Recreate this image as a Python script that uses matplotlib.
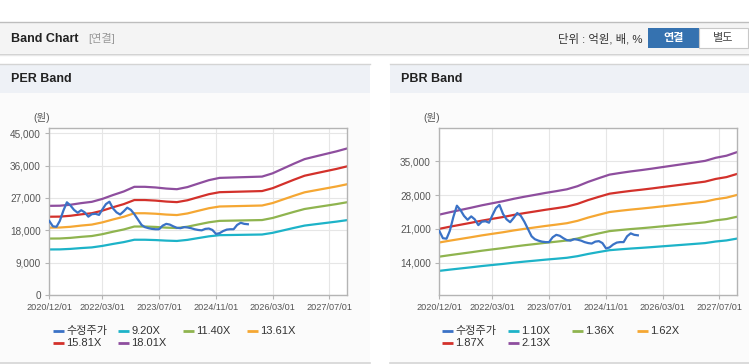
import matplotlib
matplotlib.use('Agg')
import matplotlib.pyplot as plt
from matplotlib.patches import Rectangle
from matplotlib.lines import Line2D
from matplotlib.ticker import FuncFormatter, FixedLocator
import matplotlib.dates as mdates
import pandas as pd

plt.rcParams['font.family'] = ['Liberation Sans', 'Noto Sans CJK KR']

# ---------------- data ----------------
price_label = '수정주가'
price_start = '2020-12-01'
price = [20600, 19100, 19000, 20600, 23500, 25800, 24900, 23700, 22900, 23600,
         23000, 21800, 22500, 22600, 22300, 23800, 25300, 25970, 24100, 23000,
         22400, 23300, 24300, 23700, 22500, 21000, 19500, 18900, 18600, 18400,
         18300, 18300, 19300, 19800, 19600, 19100, 18700, 18600, 18900, 18800,
         18600, 18300, 18100, 18000, 18400, 18500, 18100, 17000, 17200, 17800,
         18200, 18300, 18300, 19500, 20100, 19800, 19700]

band_start = '2020-12-01'   # quarterly points
eps = [1378, 1380, 1395, 1420, 1440, 1485, 1545, 1600, 1672, 1672,
       1662, 1645, 1635, 1668, 1722, 1775, 1810, 1815, 1820, 1825,
       1830, 1880, 1955, 2030, 2100, 2140, 2180, 2220, 2265]
bps = [11250, 11480, 11700, 11920, 12150, 12350, 12550, 12780, 12980, 13160,
       13350, 13520, 13700, 14000, 14420, 14780, 15120, 15280, 15430, 15560,
       15700, 15850, 16000, 16150, 16300, 16450, 16750, 16950, 17300]

per_multiples = [9.20, 11.40, 13.61, 15.81, 18.01]
pbr_multiples = [1.10, 1.36, 1.62, 1.87, 2.13]
per_labels = ['9.20X', '11.40X', '13.61X', '15.81X', '18.01X']
pbr_labels = ['1.10X', '1.36X', '1.62X', '1.87X', '2.13X']

x_ticks = ['2020-12-01', '2022-03-01', '2023-07-01', '2024-11-01', '2026-03-01', '2027-07-01']
x_range = ['2020-12-01', '2027-12-01']
per_yticks = [0, 9000, 18000, 27000, 36000, 45000]
per_ylim = (0, 46400)
pbr_yticks = [14000, 21000, 28000, 35000]
pbr_ylim = (7400, 41750)

price_color = '#3a72c6'
band_colors = ['#1db3c8', '#8fb44f', '#f5a733', '#d3312b', '#8e4e9e']

# ---------------- figure ----------------
W, H = 749, 364
fig = plt.figure(figsize=(W / 100, H / 100), dpi=100, facecolor='white')


def fx(x):
    return x / W


def fy(y):
    return 1 - y / H


def rect(x0, y0, x1, y1, color, ec='none', lw=0, z=0):
    fig.add_artist(Rectangle((fx(x0), fy(y1)), (x1 - x0) / W, (y1 - y0) / H,
                             transform=fig.transFigure, facecolor=color,
                             edgecolor=ec, linewidth=lw, zorder=z))


def hline(x0, x1, y, color, lw=1.0, z=1):
    fig.add_artist(Line2D([fx(x0), fx(x1)], [fy(y), fy(y)], transform=fig.transFigure,
                          color=color, lw=lw, zorder=z))


# header bar
rect(0, 22, 749, 53, '#f4f4f4')
hline(0, 749, 22, '#bdbdbd', 1.0)
hline(0, 749, 53.5, '#cfcfcf', 1.0)
hline(0, 749, 54.5, '#e8e8e8', 1.0)
fig.text(fx(11), fy(38.5), 'Band Chart', fontsize=9, fontweight='bold', color='#222', va='center')
fig.text(fx(88), fy(38.5), '[연결]', fontsize=8, color='#999999', va='center')
fig.text(fx(643), fy(38.5), '단위 : 억원, 배, %', fontsize=8.2, color='#333', va='center', ha='right')
rect(648, 28, 699, 47.5, '#3572b0', z=2)
fig.text(fx(673.5), fy(38), '연결', fontsize=8, color='white', fontweight='bold', va='center', ha='center', zorder=3)
rect(699, 28, 748, 47.5, 'white', ec='#c8c8c8', lw=0.8, z=2)
fig.text(fx(723.5), fy(38), '별도', fontsize=8, color='#444', va='center', ha='center', zorder=3)

# panels
for (px0, px1, title) in [(0, 370, 'PER Band'), (390, 749, 'PBR Band')]:
    rect(px0, 64, px1, 362, '#fbfbfb')
    rect(px0, 64, px1, 93, '#eef1f6')
    hline(px0, px1, 64, '#d4d4d4', 1.0)
    hline(px0, px1, 362.5, '#d4d4d4', 1.2)
    fig.text(fx(px0 + 11), fy(79.5), title, fontsize=9, fontweight='bold', color='#222', va='center')

price_dates = pd.date_range(price_start, periods=len(price), freq='MS')
band_dates = pd.date_range(band_start, periods=len(eps), freq='3MS')
tick_dates = pd.to_datetime(x_ticks)
xr = pd.to_datetime(x_range)


def setup_axes(left_px, yticks, ylim):
    ax = fig.add_axes([fx(left_px), fy(295), (297.8) / W, (295 - 128.3) / H])
    ax.set_facecolor('white')
    ax.set_xlim(xr[0], xr[1])
    ax.set_ylim(*ylim)
    ax.xaxis.set_major_locator(FixedLocator(mdates.date2num(tick_dates)))
    ax.xaxis.set_major_formatter(mdates.DateFormatter('%Y/%m/%d'))
    ax.set_yticks(yticks)
    ax.yaxis.set_major_formatter(FuncFormatter(lambda v, p: f'{int(v):,}'))
    ax.grid(True, color='#e6e6e6', lw=0.8)
    ax.set_axisbelow(True)
    for s in ax.spines.values():
        s.set_color('#b4b4b4')
        s.set_linewidth(1.0)
    ax.tick_params(axis='both', direction='out', length=3, color='#b4b4b4',
                   labelcolor='#555555')
    ax.tick_params(axis='x', labelsize=6.6, pad=3)
    ax.tick_params(axis='y', labelsize=7.2, pad=3)
    return ax


def legend_items(x_cols, rows_y, items):
    pos = [(x_cols[0], rows_y[0]), (x_cols[1], rows_y[0]), (x_cols[2], rows_y[0]),
           (x_cols[3], rows_y[0]), (x_cols[0], rows_y[1]), (x_cols[1], rows_y[1])]
    for (x, y), (lab, col) in zip(pos, items):
        fig.add_artist(Line2D([fx(x), fx(x + 10.5)], [fy(y), fy(y)], transform=fig.transFigure,
                              color=col, lw=2.0, solid_capstyle='butt'))
        fig.text(fx(x + 13), fy(y), lab, fontsize=8, color='#333', va='center')


# PER chart
ax1 = setup_axes(49.3, per_yticks, per_ylim)
for m, lab, col in zip(per_multiples, per_labels, band_colors):
    ax1.plot(band_dates, [e * m for e in eps], color=col, lw=1.6, label=lab, zorder=2)
ax1.plot(price_dates, price, color=price_color, lw=1.6, label=price_label, zorder=3)
fig.text(fx(33), fy(117.5), '(원)', fontsize=7.5, color='#555', va='center')
legend_items([53, 118, 183, 247], [330.7, 343.3],
             [(price_label, price_color)] + list(zip(per_labels, band_colors)))

# PBR chart
ax2 = setup_axes(439.3, pbr_yticks, pbr_ylim)
for m, lab, col in zip(pbr_multiples, pbr_labels, band_colors):
    ax2.plot(band_dates, [b * m for b in bps], color=col, lw=1.6, label=lab, zorder=2)
ax2.plot(price_dates, price, color=price_color, lw=1.6, label=price_label, zorder=3)
fig.text(fx(423), fy(117.5), '(원)', fontsize=7.5, color='#555', va='center')
legend_items([442, 508, 572, 637], [330.7, 343.3],
             [(price_label, price_color)] + list(zip(pbr_labels, band_colors)))

fig.savefig('out.png', dpi=100, facecolor='white')
